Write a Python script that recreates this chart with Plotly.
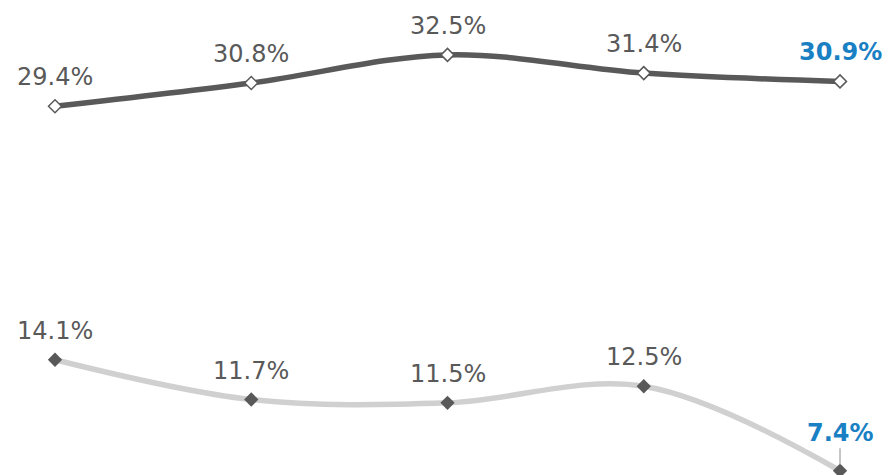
import plotly.graph_objects as go

categories = ["P1", "P2", "P3", "P4", "P5"]
series_top = [29.4, 30.8, 32.5, 31.4, 30.9]
series_bottom = [14.1, 11.7, 11.5, 12.5, 7.4]
labels_top = ["29.4%", "30.8%", "32.5%", "31.4%", "30.9%"]
labels_bottom = ["14.1%", "11.7%", "11.5%", "12.5%", "7.4%"]

GRAY = "#595959"
LIGHT = "#d0d0d0"
BLUE = "#1a80c4"
FONT = "DejaVu Sans"

xs = list(range(len(categories)))

fig = go.Figure()
fig.add_trace(go.Scatter(
    x=xs, y=series_top, mode="lines+markers",
    line=dict(color=GRAY, width=5.5, shape="spline", smoothing=1.0),
    marker=dict(symbol="diamond", size=10, color="white", line=dict(color=GRAY, width=1.5)),
    hoverinfo="skip", showlegend=False))
fig.add_trace(go.Scatter(
    x=xs, y=series_bottom, mode="lines+markers",
    line=dict(color=LIGHT, width=5.5, shape="spline", smoothing=1.0),
    marker=dict(symbol="diamond", size=11, color=GRAY, line=dict(color=GRAY, width=0)),
    hoverinfo="skip", showlegend=False))

annotations = []
for series, labels in ((series_top, labels_top), (series_bottom, labels_bottom)):
    n = len(series)
    for i, (v, t) in enumerate(zip(series, labels)):
        last = i == n - 1
        font = dict(family=FONT, size=24, color=BLUE if last else GRAY)
        text = f"<b>{t}</b>" if last else t
        if last and series is series_bottom:
            annotations.append(dict(
                x=i, y=v, xref="x", yref="y", text=text, font=font,
                showarrow=True, arrowhead=0, arrowwidth=1.2, arrowcolor="#a0a0a0",
                ax=0, ay=-38, standoff=6, bgcolor="white", borderpad=1))
        else:
            annotations.append(dict(
                x=i, y=v, xref="x", yref="y", text=text, font=font,
                showarrow=False, yanchor="bottom", yshift=13))

fig.update_layout(
    width=890, height=475,
    margin=dict(l=0, r=0, t=0, b=0),
    paper_bgcolor="white", plot_bgcolor="white",
    xaxis=dict(range=[-0.2395, 4.2955], visible=False),
    yaxis=dict(range=[6.66, 35.33], visible=False),
    annotations=annotations,
)
fig.write_html("out.html")
